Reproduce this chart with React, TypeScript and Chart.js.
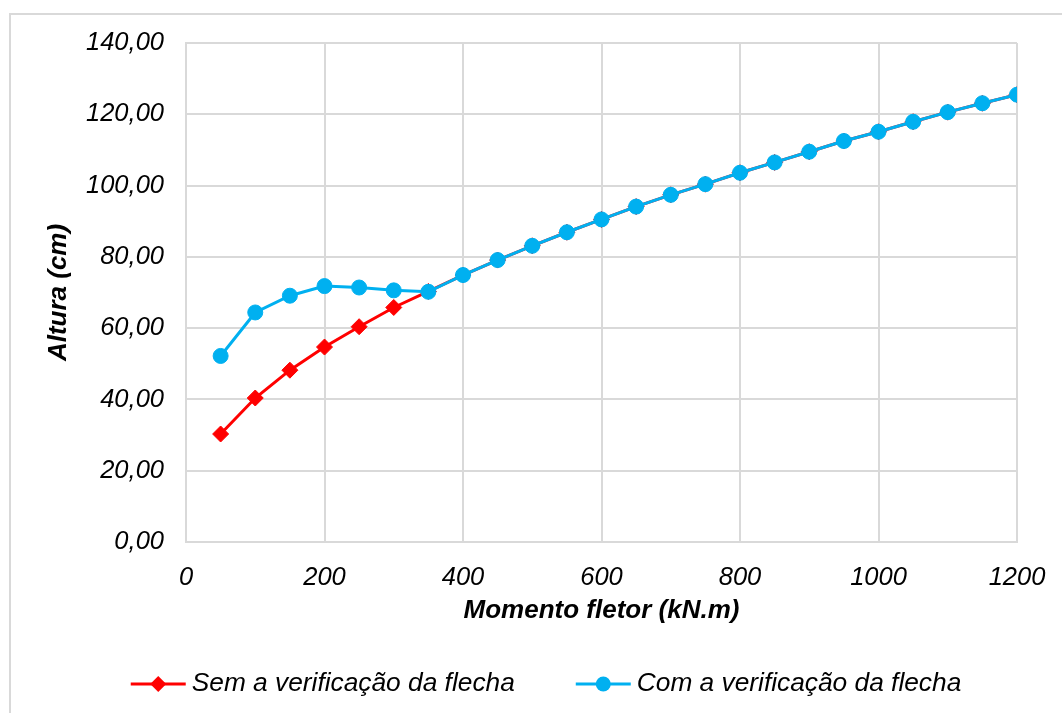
import React, { useEffect, useRef } from 'react';
import { Chart, registerables } from 'chart.js';

Chart.register(...registerables);

// Bending moment (kN.m) and the resulting section height (cm)
const momentos = [
  50, 100, 150, 200, 250, 300, 350, 400, 450, 500, 550, 600,
  650, 700, 750, 800, 850, 900, 950, 1000, 1050, 1100, 1150, 1200,
];
const alturaSemFlecha = [
  30.3, 40.4, 48.2, 54.7, 60.4, 65.8, 70.3, 74.9, 79.1, 83.1, 86.9, 90.5,
  94.1, 97.4, 100.4, 103.6, 106.5, 109.5, 112.5, 115.1, 117.9, 120.6, 123.1, 125.5,
];
const alturaComFlecha = [
  52.2, 64.4, 69.1, 71.8, 71.4, 70.6, 70.2, 74.9, 79.1, 83.1, 86.9, 90.5,
  94.1, 97.4, 100.4, 103.6, 106.5, 109.5, 112.5, 115.1, 117.9, 120.6, 123.1, 125.5,
];
const seriesNames = ['Sem a verificação da flecha', 'Com a verificação da flecha'];
const xTicks = [0, 200, 400, 600, 800, 1000, 1200];
const yTicks = [0, 20, 40, 60, 80, 100, 120, 140];
const xTitle = 'Momento fletor (kN.m)';
const yTitle = 'Altura (cm)';

const FONT = "'Liberation Sans', Arial, sans-serif";
const GRID = '#d9d9d9';
const RED = '#ff0000';
const BLUE = '#00b0f0';

// Legend drawn as a short line with the series marker in the middle
const lineLegend = {
  id: 'lineLegend',
  afterDraw(chart: any, _args: any, opts: any) {
    const ctx = chart.ctx as CanvasRenderingContext2D;
    ctx.save();
    ctx.font = `italic ${opts.fontSize}px ${FONT}`;
    const items = chart.data.datasets.map((ds: any) => ({ ds, w: ctx.measureText(ds.label).width }));
    const total =
      items.reduce((s: number, it: any) => s + opts.lineLength + opts.textGap + it.w, 0) +
      opts.itemGap * (items.length - 1);
    let x = opts.centerX - total / 2;
    const y = opts.y;
    items.forEach(({ ds, w }: any) => {
      ctx.strokeStyle = ds.borderColor;
      ctx.lineWidth = ds.borderWidth;
      ctx.beginPath();
      ctx.moveTo(x, y);
      ctx.lineTo(x + opts.lineLength, y);
      ctx.stroke();
      const cx = x + opts.lineLength / 2;
      const r = ds.pointRadius;
      ctx.fillStyle = ds.pointBackgroundColor;
      ctx.beginPath();
      if (ds.pointStyle === 'rectRot') {
        ctx.moveTo(cx - r, y);
        ctx.lineTo(cx, y - r);
        ctx.lineTo(cx + r, y);
        ctx.lineTo(cx, y + r);
        ctx.closePath();
      } else {
        ctx.arc(cx, y, r, 0, Math.PI * 2);
      }
      ctx.fill();
      ctx.fillStyle = '#000';
      ctx.textAlign = 'left';
      ctx.textBaseline = 'middle';
      ctx.fillText(ds.label, x + opts.lineLength + opts.textGap, y);
      x += opts.lineLength + opts.textGap + w + opts.itemGap;
    });
    ctx.restore();
  },
};

const tickFont = { family: FONT, size: 25.5, style: 'italic' as const };
const titleFont = { family: FONT, size: 26, style: 'italic' as const, weight: 'bold' as const };

export default function App() {
  const canvasRef = useRef<HTMLCanvasElement | null>(null);

  useEffect(() => {
    if (!canvasRef.current) return;
    const chart = new Chart(canvasRef.current, {
      type: 'line',
      data: {
        datasets: [
          {
            label: seriesNames[0],
            data: momentos.map((m, i) => ({ x: m, y: alturaSemFlecha[i] })),
            borderColor: RED,
            backgroundColor: RED,
            pointBackgroundColor: RED,
            pointBorderColor: RED,
            pointBorderWidth: 1,
            borderWidth: 3,
            pointStyle: 'rectRot',
            pointRadius: 8,
            tension: 0,
            order: 2,
          },
          {
            label: seriesNames[1],
            data: momentos.map((m, i) => ({ x: m, y: alturaComFlecha[i] })),
            borderColor: BLUE,
            backgroundColor: BLUE,
            pointBackgroundColor: BLUE,
            pointBorderColor: BLUE,
            pointBorderWidth: 1,
            borderWidth: 3,
            pointStyle: 'circle',
            pointRadius: 7.5,
            tension: 0,
            order: 1,
          },
        ],
      },
      options: {
        animation: false,
        responsive: false,
        devicePixelRatio: 1,
        layout: { padding: { left: 0, right: 45, top: 43, bottom: 81 } },
        plugins: {
          legend: { display: false },
          tooltip: { enabled: false },
          lineLegend: { centerX: 546, y: 684, lineLength: 55, textGap: 6, itemGap: 61, fontSize: 26.3 },
        } as any,
        scales: {
          x: {
            type: 'linear',
            min: 0,
            max: 1200,
            afterBuildTicks: (s: any) => {
              s.ticks = xTicks.map((v) => ({ value: v }));
            },
            afterFit: (s: any) => {
              s.height = 90;
              s.paddingLeft = 0;
              s.paddingRight = 0;
            },
            ticks: {
              font: tickFont,
              color: '#000',
              padding: 21,
              maxRotation: 0,
              callback: (v: any) => String(v),
            },
            grid: { color: GRID, lineWidth: 2, drawTicks: false },
            border: { color: GRID, width: 2 },
            title: {
              display: true,
              text: xTitle,
              color: '#000',
              font: titleFont,
              padding: { top: 0, bottom: 6 },
            },
          },
          y: {
            type: 'linear',
            min: 0,
            max: 140,
            afterBuildTicks: (s: any) => {
              s.ticks = yTicks.map((v) => ({ value: v }));
            },
            afterFit: (s: any) => {
              s.width = 186;
              s.paddingTop = 0;
              s.paddingBottom = 0;
            },
            ticks: {
              font: tickFont,
              color: '#000',
              padding: 22,
              callback: (v: any) => Number(v).toFixed(2).replace('.', ','),
            },
            grid: { color: GRID, lineWidth: 2, drawTicks: false },
            border: { color: GRID, width: 2 },
            title: {
              display: true,
              text: yTitle,
              color: '#000',
              font: titleFont,
              padding: { top: 43, bottom: 0 },
            },
          },
        },
      },
      plugins: [lineLegend],
    });
    return () => chart.destroy();
  }, []);

  return (
    <div style={{ position: 'fixed', left: 0, top: 0, width: 1062, height: 713, overflow: 'hidden', background: '#fff' }}>
      <div
        style={{
          position: 'absolute',
          left: 9,
          top: 13,
          width: 1200,
          height: 900,
          border: `2px solid ${GRID}`,
        }}
      />
      <canvas
        ref={canvasRef}
        width={1062}
        height={713}
        style={{ position: 'absolute', left: 0, top: 0, display: 'block' }}
      />
    </div>
  );
}
